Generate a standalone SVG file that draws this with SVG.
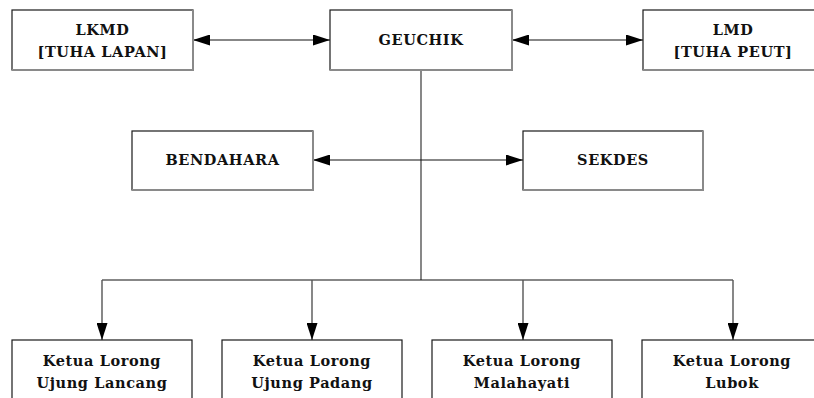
<svg xmlns="http://www.w3.org/2000/svg" width="814" height="398" viewBox="0 0 814 398">
<style>
.box{fill:#fff;stroke:#1a1a1a;stroke-width:1.2}
.sh{fill:none;stroke:#8a8a8a;stroke-width:2}
.t{font-family:"DejaVu Serif","Liberation Serif",serif;font-weight:bold;font-size:14.5px;letter-spacing:0.6px;fill:#111;text-anchor:middle}
.c{fill:none;stroke:#555;stroke-width:1.4}
.k{fill:none;stroke:#111;stroke-width:1.2}
</style>
<defs>
<marker id="ah" markerWidth="17" markerHeight="11" refX="17" refY="5.5" orient="auto-start-reverse" markerUnits="userSpaceOnUse">
<path d="M0,0 L17,5.5 L0,11 Z" fill="#000"/>
</marker>
</defs>
<g id="connectors">
<line class="k" x1="193" y1="40" x2="330" y2="40" marker-start="url(#ah)" marker-end="url(#ah)"/>
<line class="k" x1="512" y1="40" x2="643" y2="40" marker-start="url(#ah)" marker-end="url(#ah)"/>
<line class="c" x1="421" y1="70" x2="421" y2="280"/>
<line class="k" x1="313" y1="160" x2="523" y2="160" marker-start="url(#ah)" marker-end="url(#ah)"/>
<line class="k" x1="102" y1="280" x2="733" y2="280"/>
<line class="c" x1="102" y1="280" x2="102" y2="340" marker-end="url(#ah)"/>
<line class="c" x1="312" y1="280" x2="312" y2="340" marker-end="url(#ah)"/>
<line class="c" x1="523" y1="280" x2="523" y2="340" marker-end="url(#ah)"/>
<line class="c" x1="733" y1="280" x2="733" y2="340" marker-end="url(#ah)"/>
</g>
<g id="lkmd">
<rect class="box" x="12" y="10" width="181" height="60"/>
<polyline class="sh" points="193,10 193,70 12,70"/>
<text class="t" x="102.5" y="35">LKMD</text>
<text class="t" x="102.5" y="57">[TUHA LAPAN]</text>
</g>
<g id="geuchik">
<rect class="box" x="330" y="10" width="182" height="60"/>
<polyline class="sh" points="512,10 512,70 330,70"/>
<text class="t" x="421" y="45">GEUCHIK</text>
</g>
<g id="lmd">
<rect class="box" x="643" y="10" width="181" height="60"/>
<polyline class="sh" points="824,10 824,70 643,70"/>
<text class="t" x="733" y="35">LMD</text>
<text class="t" x="733" y="57">[TUHA PEUT]</text>
</g>
<g id="bendahara">
<rect class="box" x="132" y="131" width="181" height="59"/>
<polyline class="sh" points="313,131 313,190 132,190"/>
<text class="t" x="222.5" y="165">BENDAHARA</text>
</g>
<g id="sekdes">
<rect class="box" x="523" y="131" width="180" height="59"/>
<polyline class="sh" points="703,131 703,190 523,190"/>
<text class="t" x="613" y="165">SEKDES</text>
</g>
<g id="kl1">
<rect class="box" x="12" y="340" width="180" height="70"/>
<text class="t" x="102" y="366">Ketua Lorong</text>
<text class="t" x="102" y="388">Ujung Lancang</text>
</g>
<g id="kl2">
<rect class="box" x="222" y="340" width="180" height="70"/>
<text class="t" x="312" y="366">Ketua Lorong</text>
<text class="t" x="312" y="388">Ujung Padang</text>
</g>
<g id="kl3">
<rect class="box" x="432" y="340" width="180" height="70"/>
<text class="t" x="522" y="366">Ketua Lorong</text>
<text class="t" x="522" y="388">Malahayati</text>
</g>
<g id="kl4">
<rect class="box" x="642" y="340" width="181" height="70"/>
<text class="t" x="732" y="366">Ketua Lorong</text>
<text class="t" x="732" y="388">Lubok</text>
</g>
</svg>
